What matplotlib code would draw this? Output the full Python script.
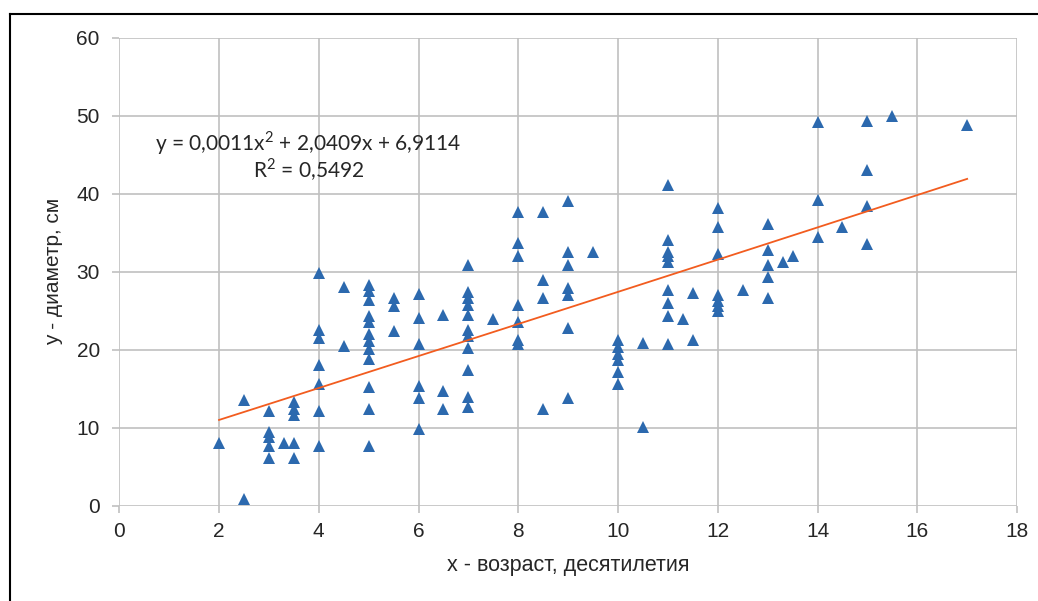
import matplotlib
matplotlib.use("Agg")
import numpy as np
import matplotlib.pyplot as plt
from matplotlib.lines import Line2D

# age (decades) and diameter (cm)
x_vals = ([2.0] + [2.5] * 2 + [3.0] * 5 + [3.3] + [3.5] * 5 + [4.0] * 7
          + [4.5] * 2 + [5.0] * 12 + [5.5] * 3 + [6.0] * 6 + [6.5] * 3
          + [7.0] * 11 + [7.5] + [8.0] * 7 + [8.5] * 4 + [9.0] * 7 + [9.5]
          + [10.0] * 6 + [10.5] * 2 + [11.0] * 9 + [11.3] + [11.5] * 2
          + [12.0] * 7 + [12.5] + [13.0] * 5 + [13.3] + [13.5] + [14.0] * 3
          + [14.5] + [15.0] * 4 + [15.5] + [17.0])
y_vals = [8.1,
          0.8, 13.5,
          12.2, 9.5, 8.8, 7.6, 6.1,
          8.1,
          13.3, 12.4, 11.6, 8.1, 6.1,
          29.8, 22.6, 21.5, 18.0, 15.6, 12.2, 7.7,
          28.0, 20.5,
          28.3, 27.6, 26.4, 24.3, 23.6, 22.0, 21.1, 20.1, 18.8, 15.2, 12.4, 7.7,
          26.6, 25.6, 22.4,
          27.1, 24.1, 20.8, 15.3, 13.8, 9.9,
          24.4, 14.7, 12.4,
          30.9, 27.4, 26.6, 25.7, 24.4, 22.5, 21.8, 20.2, 17.4, 13.9, 12.7,
          23.9,
          37.7, 33.7, 32.0, 25.7, 23.5, 21.3, 20.8,
          37.7, 28.9, 26.7, 12.4,
          39.1, 32.6, 30.9, 27.9, 27.0, 22.8, 13.8,
          32.6,
          21.3, 20.4, 19.5, 18.7, 17.1, 15.6,
          20.9, 10.1,
          41.1, 34.1, 32.6, 32.0, 31.2, 27.7, 26.0, 24.3, 20.8,
          24.0,
          27.3, 21.2,
          38.2, 35.8, 32.3, 27.0, 26.3, 25.6, 25.0,
          27.7,
          36.2, 32.8, 30.9, 29.3, 26.7,
          31.2,
          32.0,
          49.2, 39.2, 34.5,
          35.8,
          49.4, 43.0, 38.4, 33.6,
          50.0,
          48.8]

# trendline from the picture
coef = [0.0011, 2.0409, 6.9114]
r2 = 0.5492
eq_text = "y = 0,0011x$^2$ + 2,0409x + 6,9114"
r2_text = "R$^2$ = 0,5492"

x_ticks = np.arange(0, 19, 2)
y_ticks = np.arange(0, 61, 10)

plt.rcParams['font.family'] = ['Liberation Sans', 'DejaVu Sans']
plt.rcParams['mathtext.fontset'] = 'custom'
plt.rcParams['mathtext.rm'] = 'Lato'

fig = plt.figure(figsize=(10.38, 6.01), dpi=100)
ax = fig.add_axes([0.1149, 0.1586, 0.8649, 0.7782])

grid_c = '#c0c0c0'
txt_c = '#262626'
ax.set_xlim(0, 18)
ax.set_ylim(0, 60)
ax.set_xticks(x_ticks)
ax.set_yticks(y_ticks)
ax.grid(True, color=grid_c, linewidth=1.2)
ax.set_axisbelow(True)
for s in ax.spines.values():
    s.set_visible(False)
ax.tick_params(axis='both', length=5, width=1.2, color=grid_c,
               labelsize=15, labelcolor=txt_c)
ax.tick_params(axis='x', pad=7)
ax.tick_params(axis='y', pad=9)

ax.plot(x_vals, y_vals, linestyle='none', marker='^', markersize=9,
        color='#2c69ae', markeredgewidth=0, zorder=3)

xt = np.linspace(min(x_vals), max(x_vals), 100)
yt = np.polyval(coef, xt)
ax.plot(xt, yt, color='#f25c1f', linewidth=1.3, zorder=4)

ax.text(0.2108, 0.775, eq_text, transform=ax.transAxes, ha='center',
        va='center', fontsize=15, family='Lato', color=txt_c)
ax.text(0.2108, 0.718, r2_text, transform=ax.transAxes, ha='center',
        va='center', fontsize=15, family='Lato', color=txt_c)

ax.set_xlabel("x - возраст, десятилетия", fontsize=15.5, color=txt_c,
              labelpad=10)
ax.set_ylabel("y - диаметр, см", fontsize=15, color=txt_c, labelpad=10)

# frame of the cropped chart area (left and top edges only)
fig.add_artist(Line2D([10 / 1038, 10 / 1038], [0, 1 - 14 / 601],
                      color='black', linewidth=1.5))
fig.add_artist(Line2D([10 / 1038, 1], [1 - 14 / 601, 1 - 14 / 601],
                      color='black', linewidth=1.5))

fig.savefig("out.png", dpi=100, facecolor='white')
